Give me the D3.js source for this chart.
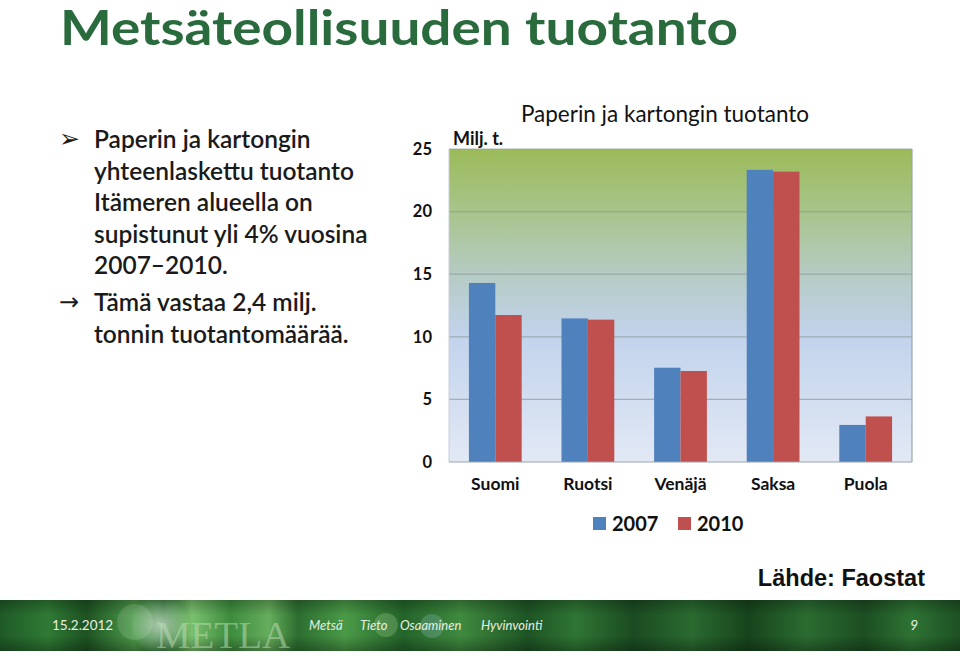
<!DOCTYPE html>
<html><head><meta charset="utf-8">
<script src="https://cdn.jsdelivr.net/npm/d3@7"></script>
<style>
html,body{margin:0;padding:0;background:#fff;}
svg{display:block;}
</style></head>
<body>
<svg id="c" width="960" height="656"></svg>
<script>
const categories = ["Suomi", "Ruotsi", "Venäjä", "Saksa", "Puola"];
const values2007 = [14.3, 11.47, 7.53, 23.33, 2.96];
const values2010 = [11.74, 11.37, 7.27, 23.19, 3.64];
const seriesNames = ["2007", "2010"];
const seriesColors = ["#4F81BD", "#C0504D"];
const yTicks = [0, 5, 10, 15, 20, 25];
const bulletLines1 = ["Paperin ja kartongin", "yhteenlaskettu tuotanto", "Itämeren alueella on", "supistunut yli 4% vuosina", "2007–2010."];
const bulletLines2 = ["Tämä vastaa 2,4 milj.", "tonnin tuotantomäärää."];
const footerWords = ["Metsä", "Tieto", "Osaaminen", "Hyvinvointi"];

const svg = d3.select("#c");
const defs = svg.append("defs");
const font = "Lato, 'Open Sans', sans-serif";

// Title
svg.append("text").attr("x", 60).attr("y", 45)
  .attr("font-family", font).attr("font-weight", 700).attr("font-size", 47)
  .attr("fill", "#2A6B3D").attr("textLength", 678).attr("lengthAdjust", "spacingAndGlyphs")
  .text("Metsäteollisuuden tuotanto");

// Bullets
const txtColor = "#1a1a1a";
svg.append("text").attr("x", 59).attr("y", 147).attr("font-family", "DejaVu Sans")
  .attr("font-size", 25).attr("fill", txtColor).text("➢");
bulletLines1.forEach((l, i) => {
  svg.append("text").attr("x", 94).attr("y", 148 + i * 31.5)
    .attr("font-family", font).attr("font-weight", 600).attr("font-size", 24.5)
    .attr("fill", txtColor).text(l);
});
svg.append("text").attr("x", 59).attr("y", 310).attr("font-family", "DejaVu Sans")
  .attr("font-size", 24).attr("fill", txtColor).text("→");
bulletLines2.forEach((l, i) => {
  svg.append("text").attr("x", 94).attr("y", 311 + i * 32)
    .attr("font-family", font).attr("font-weight", 600).attr("font-size", 24.5)
    .attr("fill", txtColor).text(l);
});

// Chart
const plot = {x0: 449, x1: 912, y0: 149, y1: 462};
const x = d3.scaleBand().domain(categories).range([plot.x0, plot.x1]).paddingInner(0.43).paddingOuter(0.215);
const xs = d3.scaleBand().domain(seriesNames).range([0, x.bandwidth()]);
const y = d3.scaleLinear().domain([0, 25]).range([plot.y1, plot.y0]);

const bg = defs.append("linearGradient").attr("id", "bg").attr("x1", 0).attr("y1", 0).attr("x2", 0).attr("y2", 1);
[[0, "#9BBB59"], [0.2, "#a9c48b"], [0.4, "#b5cbc4"], [0.6, "#c2d3ec"], [1, "#e2e9f5"]].forEach(s =>
  bg.append("stop").attr("offset", s[0]).attr("stop-color", s[1]));
svg.append("rect").attr("x", plot.x0).attr("y", plot.y0).attr("width", plot.x1 - plot.x0).attr("height", plot.y1 - plot.y0)
  .attr("fill", "url(#bg)");

// gridlines
svg.append("g").selectAll("line").data(yTicks.filter(t => t > 0)).join("line")
  .attr("x1", plot.x0).attr("x2", plot.x1).attr("y1", d => y(d)).attr("y2", d => y(d))
  .attr("stroke", "#8f9c99").attr("stroke-opacity", 0.7).attr("stroke-width", 1.2);
svg.append("line").attr("x1", plot.x1).attr("x2", plot.x1).attr("y1", plot.y0).attr("y2", plot.y1)
  .attr("stroke", "#9aa6a6").attr("stroke-width", 1.2);
svg.append("line").attr("x1", plot.x0).attr("x2", plot.x0).attr("y1", plot.y0).attr("y2", plot.y1)
  .attr("stroke", "#c8ced6").attr("stroke-width", 1);

// bars
const groups = svg.append("g").selectAll("g").data(categories).join("g")
  .attr("transform", d => `translate(${x(d)},0)`);
groups.selectAll("rect").data((d, i) => [values2007[i], values2010[i]].map((v, j) => ({v, s: seriesNames[j], c: seriesColors[j]})))
  .join("rect")
  .attr("x", d => xs(d.s)).attr("width", xs.bandwidth())
  .attr("y", d => y(d.v)).attr("height", d => y(0) - y(d.v))
  .attr("fill", d => d.c);

svg.append("line").attr("x1", plot.x0).attr("x2", plot.x1).attr("y1", plot.y1).attr("y2", plot.y1)
  .attr("stroke", "#9aa3b0").attr("stroke-width", 1.2);

// y axis labels
const yAxis = d3.axisLeft(y).tickValues(yTicks).tickSize(0).tickPadding(17);
const ya = svg.append("g").attr("transform", `translate(${plot.x0},0)`).call(yAxis);
ya.select(".domain").remove();
ya.selectAll("text").attr("font-family", font).attr("font-weight", 700).attr("font-size", 16.5).attr("fill", "#111");

// x axis labels
const xAxis = d3.axisBottom(x).tickSize(0).tickPadding(16);
const xa = svg.append("g").attr("transform", `translate(0,${plot.y1})`).call(xAxis);
xa.select(".domain").remove();
xa.selectAll("text").attr("font-family", font).attr("font-weight", 700).attr("font-size", 17.5).attr("fill", "#111");

// chart title & unit
svg.append("text").attr("x", 665).attr("y", 122).attr("text-anchor", "middle")
  .attr("font-family", font).attr("font-size", 22.5).attr("fill", "#111").text("Paperin ja kartongin tuotanto");
svg.append("text").attr("x", 453).attr("y", 145)
  .attr("font-family", font).attr("font-weight", 700).attr("font-size", 18).attr("fill", "#111").text("Milj. t.");

// legend
const lg = svg.append("g");
const legX = [593, 678];
seriesNames.forEach((s, i) => {
  lg.append("rect").attr("x", legX[i]).attr("y", 517).attr("width", 13).attr("height", 13).attr("fill", seriesColors[i]);
  lg.append("text").attr("x", legX[i] + 19).attr("y", 531)
    .attr("font-family", font).attr("font-weight", 700).attr("font-size", 20).attr("fill", "#111").text(s);
});

// source
svg.append("text").attr("x", 925).attr("y", 586).attr("text-anchor", "end")
  .attr("font-family", "'Liberation Sans', Arial, sans-serif").attr("font-weight", 700).attr("font-size", 23.5)
  .attr("fill", "#111").text("Lähde: Faostat");

// footer
const fg = defs.append("linearGradient").attr("id", "fg").attr("x1", 0).attr("y1", 0).attr("x2", 1).attr("y2", 0);
[[0, "#1f5a26"], [0.05, "#2f7a35"], [0.09, "#1d5222"], [0.14, "#4c9a4a"], [0.17, "#2b7431"], [0.2, "#7ac06e"],
 [0.24, "#3d8c3e"], [0.28, "#66ad5c"], [0.31, "#2c6e30"], [0.36, "#4a9a47"], [0.42, "#24642a"], [0.48, "#3f8a3f"],
 [0.55, "#1e5424"], [0.6, "#2f7534"], [0.66, "#1b4b21"], [0.72, "#2a6a30"], [0.78, "#17441c"], [0.84, "#2b6c31"],
 [0.9, "#1c4e22"], [0.95, "#2e7333"], [1, "#1d5023"]].forEach(s =>
  fg.append("stop").attr("offset", s[0]).attr("stop-color", s[1]));
svg.append("rect").attr("x", 0).attr("y", 600).attr("width", 960).attr("height", 51).attr("fill", "url(#fg)");
const vg = defs.append("linearGradient").attr("id", "vg").attr("x1", 0).attr("y1", 0).attr("x2", 0).attr("y2", 1);
[[0, "#000", 0.25], [0.3, "#000", 0], [0.7, "#000", 0], [1, "#000", 0.3]].forEach(s =>
  vg.append("stop").attr("offset", s[0]).attr("stop-color", s[1]).attr("stop-opacity", s[2]));
svg.append("rect").attr("x", 0).attr("y", 600).attr("width", 960).attr("height", 51).attr("fill", "url(#vg)");
const glow = defs.append("radialGradient").attr("id", "glow");
glow.append("stop").attr("offset", 0).attr("stop-color", "#ffffff").attr("stop-opacity", 0.6);
glow.append("stop").attr("offset", 1).attr("stop-color", "#ffffff").attr("stop-opacity", 0);
svg.append("circle").attr("cx", 160).attr("cy", 625).attr("r", 30).attr("fill", "url(#glow)");
svg.append("circle").attr("cx", 135).attr("cy", 622).attr("r", 18).attr("fill", "#ffffff").attr("fill-opacity", 0.12);
svg.append("circle").attr("cx", 386).attr("cy", 625).attr("r", 12).attr("fill", "#8fbf80").attr("fill-opacity", 0.35);
svg.append("circle").attr("cx", 432).attr("cy", 626).attr("r", 12).attr("fill", "#7fb0a8").attr("fill-opacity", 0.35);

svg.append("text").attr("x", 52).attr("y", 630).attr("font-family", font).attr("font-size", 13.5)
  .attr("fill", "#e6f0e0").text("15.2.2012");
svg.append("text").attr("x", 156).attr("y", 648).attr("font-family", "'Liberation Serif', serif").attr("font-size", 38)
  .attr("fill", "#b9dcb0").attr("fill-opacity", 0.55).attr("textLength", 134).attr("lengthAdjust", "spacingAndGlyphs").text("METLA");
const fx = [309, 360, 400, 481];
footerWords.forEach((w, i) => {
  svg.append("text").attr("x", fx[i]).attr("y", 630).attr("font-family", font).attr("font-style", "italic")
    .attr("font-size", 13).attr("fill", "#e6f0e0").text(w);
});
svg.append("text").attr("x", 910).attr("y", 630).attr("font-family", font).attr("font-style", "italic")
  .attr("font-size", 14).attr("fill", "#e6f0e0").text("9");
</script>
</body></html>
